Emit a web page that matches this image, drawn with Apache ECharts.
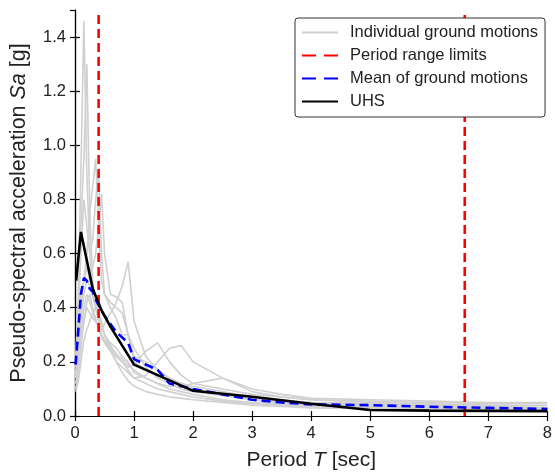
<!DOCTYPE html>
<html>
<head>
<meta charset="utf-8">
<script src="https://cdn.jsdelivr.net/npm/echarts@6/dist/echarts.min.js"></script>
<style>
    html, body { margin: 0; padding: 0; background: #fff; }
    #chart { width: 555px; height: 476px; }
</style>
</head>
<body>
<div id="chart"></div>
<script>
// periods shared by the individual ground motion spectra
var gmPeriods = [0.01, 0.05, 0.1, 0.15, 0.2, 0.25, 0.3, 0.35, 0.4, 0.45, 0.5, 0.6, 0.7, 0.8, 0.9, 1.0, 1.2, 1.4, 1.6, 1.8, 2.0, 2.5, 3, 3.5, 4, 5, 6, 7, 8];
var gmValues = [
    [0.2, 0.4, 0.9, 1.46, 0.9, 0.6, 0.45, 0.4, 0.35, 0.3, 0.28, 0.25, 0.22, 0.2, 0.17, 0.14, 0.12, 0.1, 0.09, 0.08, 0.07, 0.055, 0.045, 0.04, 0.035, 0.03, 0.025, 0.022, 0.02],
    [0.15, 0.3, 0.7, 0.95, 1.3, 0.75, 0.5, 0.42, 0.38, 0.33, 0.3, 0.27, 0.25, 0.22, 0.2, 0.16, 0.14, 0.12, 0.1, 0.09, 0.08, 0.06, 0.05, 0.045, 0.04, 0.035, 0.03, 0.028, 0.025],
    [0.18, 0.25, 0.4, 0.5, 0.6, 0.75, 0.85, 0.95, 0.7, 0.5, 0.45, 0.42, 0.4, 0.38, 0.3, 0.2, 0.17, 0.15, 0.13, 0.12, 0.1, 0.08, 0.06, 0.05, 0.045, 0.04, 0.035, 0.03, 0.028],
    [0.2, 0.3, 0.45, 0.5, 0.55, 0.5, 0.55, 0.6, 0.7, 0.82, 0.6, 0.45, 0.44, 0.42, 0.3, 0.22, 0.2, 0.17, 0.14, 0.12, 0.11, 0.09, 0.07, 0.06, 0.05, 0.045, 0.04, 0.035, 0.03],
    [0.15, 0.2, 0.3, 0.35, 0.4, 0.38, 0.36, 0.35, 0.33, 0.32, 0.34, 0.38, 0.42, 0.48, 0.57, 0.35, 0.22, 0.17, 0.14, 0.12, 0.1, 0.08, 0.065, 0.055, 0.05, 0.045, 0.04, 0.035, 0.03],
    [0.12, 0.18, 0.3, 0.4, 0.45, 0.42, 0.38, 0.35, 0.33, 0.3, 0.28, 0.25, 0.22, 0.2, 0.18, 0.19, 0.24, 0.27, 0.2, 0.15, 0.12, 0.1, 0.08, 0.07, 0.06, 0.05, 0.045, 0.04, 0.038],
    [0.1, 0.15, 0.25, 0.35, 0.42, 0.45, 0.4, 0.36, 0.32, 0.29, 0.27, 0.24, 0.2, 0.18, 0.16, 0.14, 0.15, 0.2, 0.25, 0.26, 0.2, 0.14, 0.09, 0.07, 0.06, 0.055, 0.05, 0.045, 0.045],
    [0.14, 0.2, 0.35, 0.45, 0.5, 0.48, 0.44, 0.4, 0.37, 0.33, 0.3, 0.26, 0.23, 0.21, 0.19, 0.17, 0.14, 0.12, 0.11, 0.11, 0.12, 0.14, 0.1, 0.08, 0.065, 0.06, 0.055, 0.05, 0.05],
    [0.09, 0.12, 0.2, 0.28, 0.32, 0.35, 0.38, 0.4, 0.38, 0.35, 0.3, 0.25, 0.2, 0.16, 0.13, 0.11, 0.09, 0.08, 0.07, 0.065, 0.06, 0.05, 0.04, 0.035, 0.03, 0.028, 0.025, 0.022, 0.02],
    [0.2, 0.35, 0.6, 0.8, 0.7, 0.6, 0.65, 0.8, 0.9, 0.6, 0.45, 0.4, 0.36, 0.3, 0.3, 0.25, 0.18, 0.14, 0.12, 0.1, 0.09, 0.075, 0.06, 0.05, 0.045, 0.04, 0.035, 0.032, 0.03]
];

// mean of ground motions
var meanPeriods = [0.01, 0.05, 0.1, 0.15, 0.2, 0.25, 0.3, 0.35, 0.4, 0.45, 0.5, 0.6, 0.7, 0.8, 0.9, 1.0, 1.2, 1.4, 1.6, 1.8, 2.0, 2.5, 3, 3.5, 4, 5, 6, 7, 8];
var meanValues = [0.19, 0.3, 0.45, 0.51, 0.5, 0.47, 0.46, 0.43, 0.41, 0.39, 0.37, 0.34, 0.31, 0.29, 0.27, 0.21, 0.19, 0.17, 0.12, 0.11, 0.1, 0.08, 0.06, 0.05, 0.043, 0.04, 0.034, 0.03, 0.026];

// uniform hazard spectrum
var uhsPeriods = [0.02, 0.1, 0.3, 0.45, 0.6, 0.8, 1.0, 2.0, 3.0, 4.0, 5.0, 6.0, 8.0];
var uhsValues = [0.5, 0.68, 0.47, 0.39, 0.33, 0.26, 0.19, 0.093, 0.071, 0.045, 0.022, 0.02, 0.018];

// period range limits
var periodLimits = [0.4, 6.6];

var legendNames = ["Individual ground motions", "Period range limits", "Mean of ground motions", "UHS"];

function pairs(xs, ys) {
    return xs.map(function (x, i) { return [x, ys[i]]; });
}

var chart = echarts.init(document.getElementById("chart"));
var font = "Liberation Sans, Arial, sans-serif";

var series = [];
gmValues.forEach(function (vals) {
    series.push({
        name: legendNames[0],
        type: "line",
        symbol: "none",
        silent: true,
        lineStyle: { color: "#d0d0d0", width: 1.6 },
        itemStyle: { color: "#d0d0d0" },
        data: pairs(gmPeriods, vals)
    });
});
periodLimits.forEach(function (p) {
    series.push({
        name: legendNames[1],
        type: "line",
        symbol: "none",
        lineStyle: { color: "#ff0000", width: 2.6, type: [9, 5] },
        itemStyle: { color: "#ff0000" },
        data: [[p, 0], [p, 1.5]]
    });
});
series.push({
    name: legendNames[2],
    type: "line",
    symbol: "none",
    lineStyle: { color: "#0000ff", width: 2.6, type: [9, 5] },
    itemStyle: { color: "#0000ff" },
    data: pairs(meanPeriods, meanValues)
});
series.push({
    name: legendNames[3],
    type: "line",
    symbol: "none",
    lineStyle: { color: "#000000", width: 2.6 },
    itemStyle: { color: "#000000" },
    data: pairs(uhsPeriods, uhsValues)
});

var axisLine = { show: true, lineStyle: { color: "#000", width: 1.2 } };
var axisTick = { show: true, inside: true, length: 5, lineStyle: { color: "#000", width: 1.2 } };

function richName(size) {
    return {
        a: { fontSize: size, color: "#222", fontFamily: font },
        i: { fontSize: size, color: "#222", fontStyle: "italic", fontFamily: font }
    };
}

var option = {
    animation: false,
    backgroundColor: "#fff",
    textStyle: { fontFamily: font },
    grid: { left: 74, right: 6, top: 10, bottom: 60 },
    legend: {
        data: [
            { name: legendNames[0] },
            { name: legendNames[1], lineStyle: { type: [14, 8] } },
            { name: legendNames[2], lineStyle: { type: [14, 8] } },
            { name: legendNames[3] }
        ],
        orient: "vertical",
        left: 295,
        top: 18,
        itemWidth: 36,
        itemHeight: 10,
        itemGap: 6,
        padding: [6, 7, 7, 6],
        borderColor: "#333",
        borderWidth: 1,
        borderRadius: 3,
        backgroundColor: "#fff",
        itemStyle: { opacity: 0 },
        textStyle: { fontSize: 16.5, color: "#222", fontFamily: font, padding: [0, 0, 0, 7] }
    },
    xAxis: [{
        type: "value",
        min: 0,
        max: 8,
        interval: 1,
        axisLine: axisLine,
        axisTick: axisTick,
        splitLine: { show: false },
        axisLabel: { color: "#222", fontSize: 16.5, margin: 9 },
        name: "{a|Period }{i|T}{a| [sec]}",
        nameLocation: "middle",
        nameGap: 34,
        nameTextStyle: { rich: richName(21) }
    }, {
        type: "value",
        position: "top",
        min: 0,
        max: 8,
        interval: 1,
        axisLine: axisLine,
        axisTick: axisTick,
        axisLabel: { show: false },
        splitLine: { show: false }
    }],
    yAxis: [{
        type: "value",
        min: 0,
        max: 1.5,
        interval: 0.2,
        axisLine: axisLine,
        axisTick: axisTick,
        splitLine: { show: false },
        axisLabel: {
            color: "#222",
            fontSize: 16.5,
            margin: 9,
            showMaxLabel: false,
            formatter: function (v) { return v.toFixed(1); }
        },
        name: "{a|Pseudo-spectral acceleration }{i|Sa}{a| [g]}",
        nameLocation: "middle",
        nameGap: 45,
        nameTextStyle: { rich: richName(21.5) }
    }, {
        type: "value",
        position: "right",
        min: 0,
        max: 1.5,
        interval: 0.2,
        axisLine: axisLine,
        axisTick: axisTick,
        axisLabel: { show: false },
        splitLine: { show: false }
    }],
    series: series
};

chart.setOption(option);
</script>
</body>
</html>
